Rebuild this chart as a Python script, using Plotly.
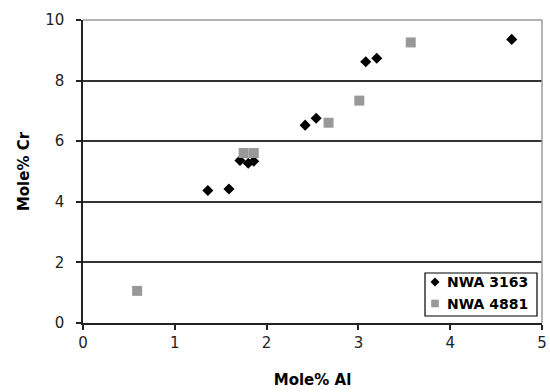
import plotly.graph_objects as go

# NWA 3163 (diamonds)
al_3163 = [1.36, 1.59, 1.71, 1.80, 1.86, 2.42, 2.54, 3.08, 3.20, 4.67]
cr_3163 = [4.37, 4.42, 5.36, 5.27, 5.34, 6.53, 6.76, 8.62, 8.74, 9.36]

# NWA 4881 (squares)
al_4881 = [0.59, 1.75, 1.86, 2.675, 3.01, 3.57]
cr_4881 = [1.06, 5.61, 5.61, 6.61, 7.34, 9.26]

x_ticks = [0, 1, 2, 3, 4, 5]
y_ticks = [0, 2, 4, 6, 8, 10]

series_names = ["NWA 3163", "NWA 4881"]
diamond_color = "black"
square_color = "#999999"

font_family = "DejaVu Sans, Verdana, sans-serif"

W, H = 550, 392
ML, MR, MT, MB = 83, 8, 20, 69
PW, PH = W - ML - MR, H - MT - MB


def px(xp):
    return (xp - ML) / PW


def py(yp):
    return (H - MB - yp) / PH


fig = go.Figure()
fig.add_trace(go.Scatter(
    x=al_3163, y=cr_3163, mode="markers", name=series_names[0],
    marker=dict(symbol="diamond", size=8.5, color=diamond_color, line=dict(width=0)),
))
fig.add_trace(go.Scatter(
    x=al_4881, y=cr_4881, mode="markers", name=series_names[1],
    marker=dict(symbol="square", size=10, color=square_color, line=dict(width=0)),
))

shapes = []
# top and right border of plot area (gray)
shapes.append(dict(type="line", xref="paper", yref="paper", x0=0, x1=1, y0=1, y1=1,
                   line=dict(color="#9a9a9a", width=1.5)))
shapes.append(dict(type="line", xref="paper", yref="paper", x0=1, x1=1, y0=0, y1=1,
                   line=dict(color="#9a9a9a", width=1.5)))

# custom legend box
shapes.append(dict(type="rect", xref="paper", yref="paper",
                   x0=px(425), x1=px(537), y0=py(316), y1=py(273),
                   line=dict(color="black", width=1.2), fillcolor="white", layer="above"))
# legend symbols
cx, cy1, cy2 = 435, 282, 303.5
r = 4.5
shapes.append(dict(type="path", xref="paper", yref="paper",
                   path=f"M {px(cx - r)} {py(cy1)} L {px(cx)} {py(cy1 - r)} L {px(cx + r)} {py(cy1)} L {px(cx)} {py(cy1 + r)} Z",
                   fillcolor=diamond_color, line=dict(width=0), layer="above"))
s = 3.8
shapes.append(dict(type="rect", xref="paper", yref="paper",
                   x0=px(cx - s), x1=px(cx + s), y0=py(cy2 + s), y1=py(cy2 - s),
                   fillcolor=square_color, line=dict(width=0), layer="above"))

annotations = [
    dict(xref="paper", yref="paper", x=px(445), y=py(cy1), xanchor="left", yanchor="middle",
         text=f"<b>{series_names[0]}</b>", showarrow=False,
         font=dict(size=14, family=font_family, color="black")),
    dict(xref="paper", yref="paper", x=px(445), y=py(cy2), xanchor="left", yanchor="middle",
         text=f"<b>{series_names[1]}</b>", showarrow=False,
         font=dict(size=14, family=font_family, color="black")),
]

fig.update_layout(
    width=W, height=H,
    margin=dict(l=ML, r=MR, t=MT, b=MB),
    paper_bgcolor="white", plot_bgcolor="white",
    font=dict(family=font_family, size=15, color="black"),
    showlegend=False,
    shapes=shapes,
    annotations=annotations,
    xaxis=dict(
        range=[0, 5], tickvals=x_ticks, ticktext=[str(v) for v in x_ticks],
        showgrid=False, zeroline=False, automargin=False,
        showline=True, linecolor="#222222", linewidth=1.5,
        ticks="outside", ticklen=5, tickcolor="#222222", tickwidth=1.5,
        tickfont=dict(size=15, color="#222222"),
        ticklabelstandoff=0,
        title=dict(text="<b>Mole% Al</b>", font=dict(size=15), standoff=24),
        fixedrange=True,
    ),
    yaxis=dict(
        range=[0, 10], tickvals=y_ticks, ticktext=[str(v) for v in y_ticks],
        showgrid=True, gridcolor="#333333", gridwidth=1.5, zeroline=False, automargin=False,
        showline=True, linecolor="#222222", linewidth=1.5,
        ticks="outside", ticklen=5, tickcolor="#222222", tickwidth=1.5,
        tickfont=dict(size=15, color="#222222"),
        ticklabelstandoff=9,
        title=dict(text="<b>Mole% Cr</b>", font=dict(size=15), standoff=12),
        fixedrange=True,
    ),
)

fig.write_html("out.html")
